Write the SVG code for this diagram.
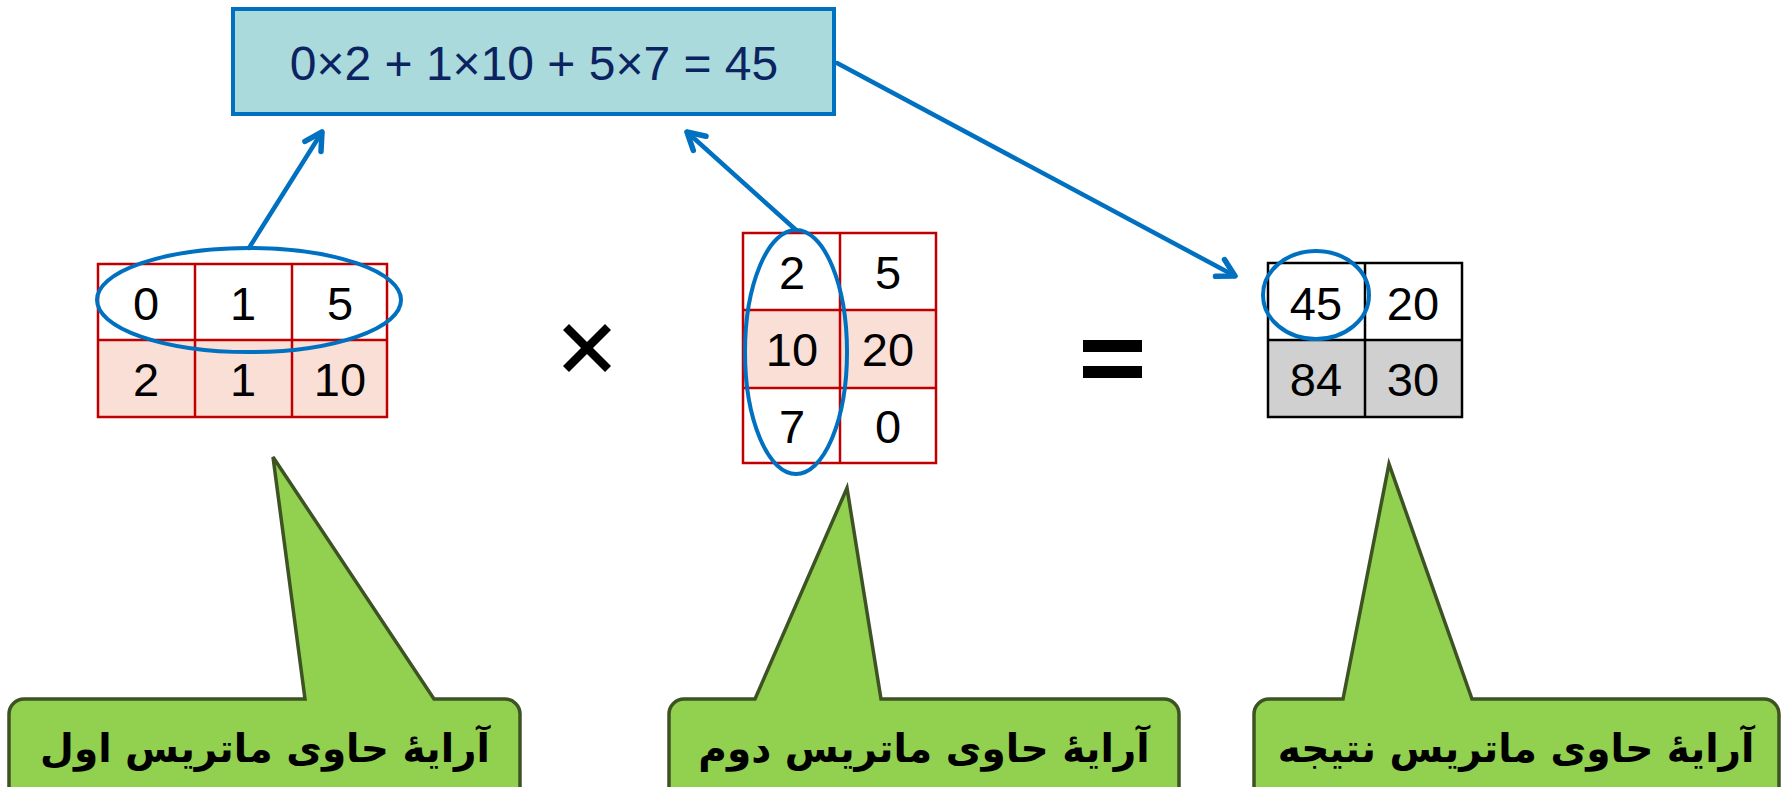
<svg xmlns="http://www.w3.org/2000/svg" width="1791" height="787" viewBox="0 0 1791 787">
  <style>
    .num { font-family: "Liberation Sans", Arial, sans-serif; font-size: 47px; fill: #000; text-anchor: middle; }
    .eq { font-family: "Liberation Sans", Arial, sans-serif; font-size: 48px; fill: #0B2461; text-anchor: middle; }
    .redgrid { fill: none; stroke: #C00000; stroke-width: 2.5; }
    .blackgrid { fill: none; stroke: #000; stroke-width: 2.5; }
    .pink { fill: #F9DFD5; }
    .grey { fill: #D0D0D0; }
    .ring { fill: none; stroke: #0070C0; stroke-width: 4; }
    .link { fill: none; stroke: #0070C0; stroke-width: 4.5; stroke-linecap: round; marker-end: url(#vhead); }
    .callout { fill: #92D050; stroke: #3E5323; stroke-width: 3.5; stroke-linejoin: miter; }
    .ctext { font-family: "DejaVu Sans", sans-serif; font-weight: bold; font-size: 39px; fill: #000; text-anchor: middle; }
    .op { fill: #000; }
  </style>
  <defs>
    <marker id="vhead" markerUnits="userSpaceOnUse" viewBox="-24 -16 30 32" markerWidth="30" markerHeight="32" refX="0" refY="0" orient="auto">
      <path d="M -17,-9.5 L 0,0 L -17,9.5" fill="none" stroke="#0070C0" stroke-width="5.5" stroke-linecap="round" stroke-linejoin="round"/>
    </marker>
  </defs>

  <rect width="1791" height="787" fill="#fff"/>

  <!-- formula box -->
  <g id="formula">
    <rect x="233" y="9" width="601" height="105" fill="#AADADC" stroke="#0070C0" stroke-width="4"/>
    <text class="eq" x="534" y="80">0×2 + 1×10 + 5×7 = 45</text>
  </g>

  <!-- first matrix (2x3) -->
  <g id="matrix-a">
    <rect class="pink" x="98" y="340" width="289" height="77"/>
    <rect class="redgrid" x="98" y="264" width="289" height="153"/>
    <line class="redgrid" x1="98" y1="340" x2="387" y2="340"/>
    <line class="redgrid" x1="195" y1="264" x2="195" y2="417"/>
    <line class="redgrid" x1="292" y1="264" x2="292" y2="417"/>
    <text class="num" x="146" y="320">0</text>
    <text class="num" x="243" y="320">1</text>
    <text class="num" x="340" y="320">5</text>
    <text class="num" x="146" y="396">2</text>
    <text class="num" x="243" y="396">1</text>
    <text class="num" x="340" y="396">10</text>
    <ellipse class="ring" cx="249" cy="300" rx="152" ry="52"/>
  </g>

  <!-- multiplication sign -->
  <g id="times">
    <path class="op" d="M 569,324 L 587,342 L 605,324 L 611,330 L 593,348 L 611,366 L 605,372 L 587,354 L 569,372 L 563,366 L 581,348 L 563,330 Z"/>
  </g>

  <!-- second matrix (3x2) -->
  <g id="matrix-b">
    <rect class="pink" x="743" y="310" width="193" height="78"/>
    <rect class="redgrid" x="743" y="233" width="193" height="230"/>
    <line class="redgrid" x1="743" y1="310" x2="936" y2="310"/>
    <line class="redgrid" x1="743" y1="388" x2="936" y2="388"/>
    <line class="redgrid" x1="840" y1="233" x2="840" y2="463"/>
    <text class="num" x="792" y="289">2</text>
    <text class="num" x="888" y="289">5</text>
    <text class="num" x="792" y="366">10</text>
    <text class="num" x="888" y="366">20</text>
    <text class="num" x="792" y="443">7</text>
    <text class="num" x="888" y="443">0</text>
    <ellipse class="ring" cx="796" cy="352" rx="51" ry="122"/>
  </g>

  <!-- equals sign -->
  <g id="equals">
    <rect class="op" x="1083" y="340" width="59" height="12"/>
    <rect class="op" x="1083" y="366" width="59" height="12"/>
  </g>

  <!-- result matrix (2x2) -->
  <g id="matrix-c">
    <rect class="grey" x="1268" y="340" width="194" height="77"/>
    <rect class="blackgrid" x="1268" y="263" width="194" height="154"/>
    <line class="blackgrid" x1="1268" y1="340" x2="1462" y2="340"/>
    <line class="blackgrid" x1="1365" y1="263" x2="1365" y2="417"/>
    <text class="num" x="1316" y="320">45</text>
    <text class="num" x="1413" y="320">20</text>
    <text class="num" x="1316" y="396">84</text>
    <text class="num" x="1413" y="396">30</text>
    <ellipse class="ring" cx="1316" cy="295" rx="53" ry="44"/>
  </g>

  <!-- connectors -->
  <g id="connectors">
    <line class="link" x1="249" y1="248" x2="322" y2="132"/>
    <line class="link" x1="796" y1="230" x2="687" y2="132"/>
    <line class="link" x1="837" y1="63" x2="1235" y2="276"/>
  </g>

  <!-- callouts -->
  <g id="callout-a">
    <path class="callout" d="M 24,699 L 305,699 L 273,457 L 434,699 L 505,699 A 15,15 0 0 1 520,714 L 520,800 L 9,800 L 9,714 A 15,15 0 0 1 24,699 Z"/>
    <text class="ctext" x="265" y="762">آرایهٔ حاوی ماتریس اول</text>
  </g>
  <g id="callout-b">
    <path class="callout" d="M 684,699 L 755,699 L 847,488 L 881,699 L 1164,699 A 15,15 0 0 1 1179,714 L 1179,800 L 669,800 L 669,714 A 15,15 0 0 1 684,699 Z"/>
    <text class="ctext" x="924" y="762">آرایهٔ حاوی ماتریس دوم</text>
  </g>
  <g id="callout-c">
    <path class="callout" d="M 1269,699 L 1343,699 L 1389,464 L 1472,699 L 1764,699 A 15,15 0 0 1 1779,714 L 1779,800 L 1254,800 L 1254,714 A 15,15 0 0 1 1269,699 Z"/>
    <text class="ctext" x="1516" y="762">آرایهٔ حاوی ماتریس نتیجه</text>
  </g>
</svg>
